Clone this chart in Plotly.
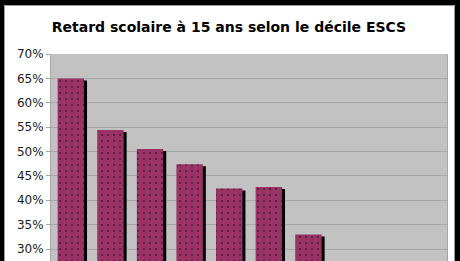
import plotly.graph_objects as go

deciles = ["1", "2", "3", "4", "5", "6", "7", "8", "9", "10"]
retard = [65.0, 54.4, 50.5, 47.4, 42.4, 42.7, 33.0, 24.0, 18.0, 10.0]
title_text = "Retard scolaire à 15 ans selon le décile ESCS"

W, H = 460, 261
L, R, T, B = 51, 13, 54, 0
pw, ph = W - L - R, H - T - B


def px_x(p):
    return (p - L) / pw


def px_y(p):
    return (H - B - p) / ph


shadow_drop = 2 / 4.875
shadow_vals = [v - shadow_drop for v in retard]

fig = go.Figure()
fig.add_trace(go.Bar(
    x=deciles, y=shadow_vals, width=0.667, offset=-0.333 + 3 / 39.6,
    marker=dict(color="#000000", line=dict(width=0)), hoverinfo="skip", showlegend=False,
))
fig.add_trace(go.Bar(
    x=deciles, y=retard, width=0.667, offset=-0.333,
    marker=dict(color="#993366", line=dict(width=0),
                pattern=dict(shape=".", fgcolor="#000000", bgcolor="#993366",
                             size=6, solidity=0.08, fillmode="overlay")),
    showlegend=False,
))

shapes = [
    dict(type="rect", xref="paper", yref="paper", x0=px_x(4.5), x1=px_x(454.5),
         y0=px_y(5.5), y1=px_y(300), line=dict(color="#9a9a9a", width=1), fillcolor="rgba(0,0,0,0)"),
    dict(type="rect", xref="paper", yref="paper", x0=px_x(-5), x1=px_x(4),
         y0=px_y(300), y1=px_y(-5), line=dict(width=0), fillcolor="#000000"),
    dict(type="rect", xref="paper", yref="paper", x0=px_x(-5), x1=px_x(465),
         y0=px_y(5), y1=px_y(-5), line=dict(width=0), fillcolor="#000000"),
    dict(type="rect", xref="paper", yref="paper", x0=px_x(455), x1=px_x(465),
         y0=px_y(300), y1=px_y(-5), line=dict(width=0), fillcolor="#000000"),
]

fig.update_layout(
    width=W, height=H,
    margin=dict(l=L, r=R, t=T, b=B, pad=0),
    paper_bgcolor="#ffffff", plot_bgcolor="#c2c2c2",
    barmode="overlay",
    title=dict(text="<b>" + title_text + "</b>", x=229 / W, xanchor="center",
               y=1 - 27 / H, yanchor="middle",
               font=dict(family="DejaVu Sans", size=14, color="#000000")),
    font=dict(family="DejaVu Sans", size=12, color="#1a1a1a"),
    xaxis=dict(showticklabels=False, ticks="", showgrid=False, zeroline=False,
               showline=False, range=[-0.5, 9.5]),
    yaxis=dict(range=[70 - (H - T) / 4.875, 70], dtick=5, ticksuffix="%",
               showgrid=True, gridcolor="#a6a6a6", gridwidth=1,
               ticks="outside", ticklen=4, tickcolor="#a6a6a6",
               showline=True, linecolor="#a6a6a6", mirror=True, zeroline=False),
    shapes=shapes,
)

fig.write_html("out.html")
